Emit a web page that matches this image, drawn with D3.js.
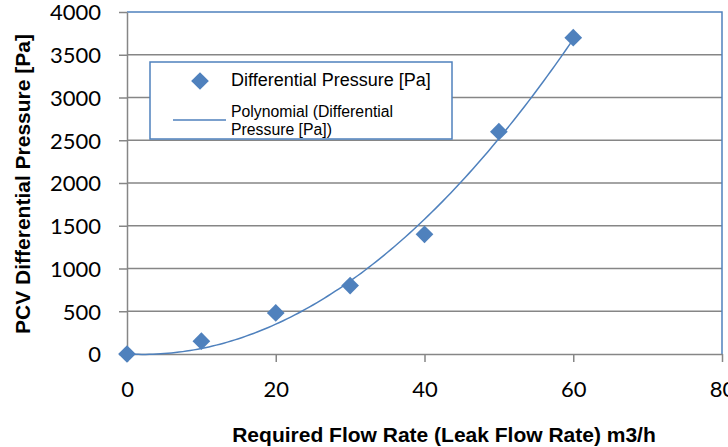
<!DOCTYPE html>
<html lang="en">
    <head>
        <meta charset="utf-8">
        <title>PCV Differential Pressure</title>
        <script type="text/javascript" src="https://cdn.jsdelivr.net/npm/d3@7/dist/d3.min.js"></script>
        <style>
            body { margin: 0; background: #fff; }
            .axis path, .axis line { fill: none; stroke: #868686; stroke-width: 1.5px; }
            .axis text { font-family: Lato, sans-serif; font-size: 22px; fill: #000; }
            .title { font-family: "Liberation Sans", Arial, sans-serif; font-weight: bold; font-size: 21px; }
        </style>
    </head>
    <body>
        <script type="text/javascript">
            var flowRate = [0, 10, 20, 30, 40, 50, 60];
            var pressure = [0, 150, 480, 800, 1400, 2600, 3700];
            var xTicks = [0, 20, 40, 60, 80];
            var yTicks = [0, 500, 1000, 1500, 2000, 2500, 3000, 3500, 4000];

            var w = 728;
            var h = 447;
            var pLeft = 127, pRight = 722, pTop = 12, pBottom = 354;
            var blue = "#4F81BD";

            var xscale = d3.scaleLinear().domain([0, 80]).range([pLeft, pRight]);
            var yscale = d3.scaleLinear().domain([0, 4000]).range([pBottom, pTop]);

            var svg = d3.select("body").append("svg").attr("width", w).attr("height", h);

            // gridlines
            svg.append("g").selectAll("line").data(yTicks.slice(1, -1)).enter().append("line")
               .attr("x1", pLeft).attr("x2", pRight)
               .attr("y1", function(d) { return yscale(d); })
               .attr("y2", function(d) { return yscale(d); })
               .attr("stroke", "#868686").attr("stroke-width", 1.5);

            // plot border on top and right is blue
            svg.append("path")
               .attr("d", "M" + pLeft + "," + pTop + "H" + pRight + "V" + pBottom)
               .attr("fill", "none").attr("stroke", blue).attr("stroke-width", 1.5);

            var xaxis = d3.axisBottom(xscale).tickValues(xTicks).tickSize(8).tickPadding(19).tickSizeOuter(0);
            var yaxis = d3.axisLeft(yscale).tickValues(yTicks).tickFormat(d3.format("d"))
                          .tickSize(8).tickPadding(18).tickSizeOuter(0);

            svg.append("g").attr("class", "x axis")
               .attr("transform", "translate(0," + pBottom + ")").call(xaxis);
            svg.append("g").attr("class", "y axis")
               .attr("transform", "translate(" + pLeft + ",0)").call(yaxis);
            svg.select(".y.axis").selectAll(".tick text").attr("dy", "0.36em");

            // 2nd order polynomial trendline, intercept 0 (least squares)
            var s2 = 0, s3 = 0, s4 = 0, sxy = 0, sx2y = 0;
            for (var i = 0; i < flowRate.length; i++) {
                var x = flowRate[i], y = pressure[i];
                s2 += x * x; s3 += x * x * x; s4 += x * x * x * x;
                sxy += x * y; sx2y += x * x * y;
            }
            var det = s2 * s4 - s3 * s3;
            var ca = (sxy * s4 - s3 * sx2y) / det;
            var cb = (s2 * sx2y - s3 * sxy) / det;
            var curve = d3.range(0, 60.01, 0.5).map(function(x) { return [x, ca * x + cb * x * x]; });

            svg.append("path").datum(curve)
               .attr("d", d3.line()
                    .x(function(d) { return xscale(d[0]); })
                    .y(function(d) { return yscale(d[1]); }))
               .attr("fill", "none").attr("stroke", blue).attr("stroke-width", 1.5);

            var diamond = d3.symbol().type(d3.symbolDiamond2).size(200);
            svg.append("g").selectAll("path").data(flowRate).enter().append("path")
               .attr("d", diamond)
               .attr("transform", function(d, i) { return "translate(" + xscale(d) + "," + yscale(pressure[i]) + ")"; })
               .attr("fill", blue);

            // legend
            var lg = svg.append("g");
            lg.append("rect").attr("x", 150).attr("y", 62).attr("width", 302).attr("height", 77)
              .attr("fill", "#fff").attr("stroke", blue).attr("stroke-width", 1.5);
            lg.append("path").attr("d", diamond)
              .attr("transform", "translate(200,81)").attr("fill", blue);
            lg.append("text").attr("x", 231).attr("y", 86)
              .attr("font-family", "'Liberation Sans', Arial, sans-serif").attr("font-size", "18px")
              .text("Differential Pressure [Pa]");
            lg.append("line").attr("x1", 173).attr("x2", 226).attr("y1", 120).attr("y2", 120)
              .attr("stroke", blue).attr("stroke-width", 1.5);
            lg.append("text").attr("x", 231).attr("y", 116.5)
              .attr("font-family", "'Liberation Sans', Arial, sans-serif").attr("font-size", "15.8px")
              .text("Polynomial (Differential");
            lg.append("text").attr("x", 231).attr("y", 135)
              .attr("font-family", "'Liberation Sans', Arial, sans-serif").attr("font-size", "15.8px")
              .text("Pressure [Pa])");

            // axis titles
            svg.append("text").attr("class", "title")
               .attr("x", 444).attr("y", 442).attr("text-anchor", "middle")
               .text("Required Flow Rate (Leak Flow Rate) m3/h");
            svg.append("text").attr("class", "title")
               .attr("transform", "translate(30,184) rotate(-90)").attr("text-anchor", "middle")
               .text("PCV Differential Pressure [Pa]");
        </script>
    </body>
</html>
